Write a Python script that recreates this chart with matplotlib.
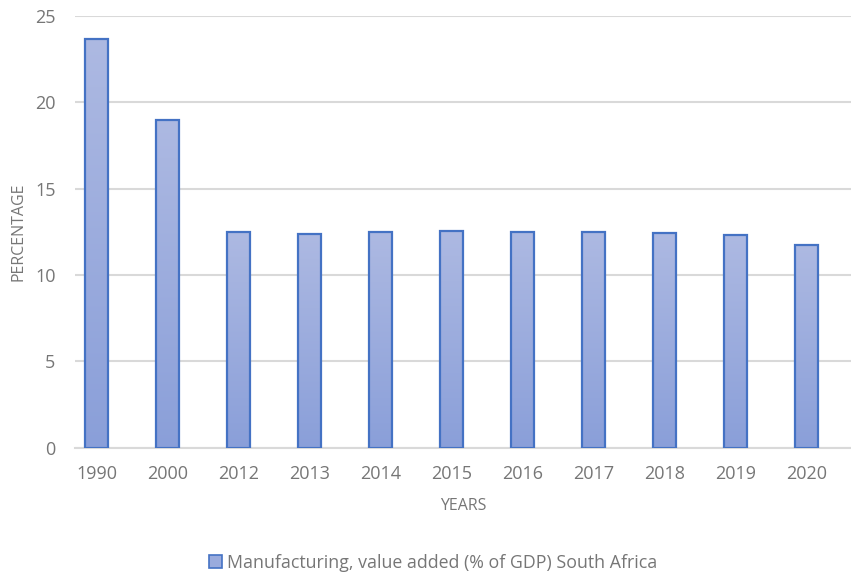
import matplotlib.pyplot as plt
import numpy as np
from matplotlib.colors import LinearSegmentedColormap
from matplotlib.patches import Patch

years = ["1990", "2000", "2012", "2013", "2014", "2015", "2016", "2017", "2018", "2019", "2020"]
values = [23.68, 18.97, 12.49, 12.37, 12.49, 12.55, 12.49, 12.49, 12.41, 12.32, 11.74]
series_name = "Manufacturing, value added (% of GDP) South Africa"

plt.rcParams["font.family"] = ["Open Sans", "DejaVu Sans"]
text_grey = "#767676"
grid_grey = "#d9d9d9"
edge_blue = "#4472c4"

fig = plt.figure(figsize=(8.51, 5.76), dpi=100)
ax = fig.add_axes([75 / 851, (576 - 447.7) / 576, 776 / 851, 431.7 / 576])

x = np.arange(len(years))
bars = ax.bar(x, values, width=0.325, color="none", edgecolor=edge_blue,
              linewidth=1.6, zorder=3)

# vertical gradient fill inside each bar
cmap = LinearSegmentedColormap.from_list("fill", ["#8a9fd9", "#adb9e2"])
grad = np.linspace(0, 1, 256).reshape(-1, 1)
for bar in bars:
    x0, w, h = bar.get_x(), bar.get_width(), bar.get_height()
    im = ax.imshow(grad, cmap=cmap, origin="lower", aspect="auto",
                   extent=[x0, x0 + w, 0, h], zorder=2)
    im.set_clip_path(bar)

ax.set_xlim(-0.303, 10.63)
ax.set_ylim(0, 25)
ax.set_yticks([0, 5, 10, 15, 20, 25])
ax.set_xticks(x)
ax.set_xticklabels(years)

ax.grid(axis="y", color=grid_grey, linewidth=1.5, zorder=0)
ax.set_axisbelow(True)
for side in ["top", "right", "left"]:
    ax.spines[side].set_visible(False)
ax.spines["bottom"].set_color(grid_grey)
ax.spines["bottom"].set_linewidth(1.5)
ax.tick_params(axis="both", length=0, labelsize=13, colors=text_grey)
ax.tick_params(axis="y", pad=14)
ax.tick_params(axis="x", pad=12.5)

ax.set_xlabel("YEARS", fontsize=11.5, color=text_grey, labelpad=11)
ax.set_ylabel("PERCENTAGE", fontsize=11.5, color=text_grey, labelpad=6)

handle = Patch(facecolor="#9aabdd", edgecolor=edge_blue, linewidth=1.2)
fig.legend([handle], [series_name], loc="center", bbox_to_anchor=(433 / 851, 1 - 563 / 576),
           frameon=False, fontsize=12.8, labelcolor=text_grey, handlelength=0.75,
           handleheight=0.75, handletextpad=0.3)

fig.savefig("out.png", dpi=100)
